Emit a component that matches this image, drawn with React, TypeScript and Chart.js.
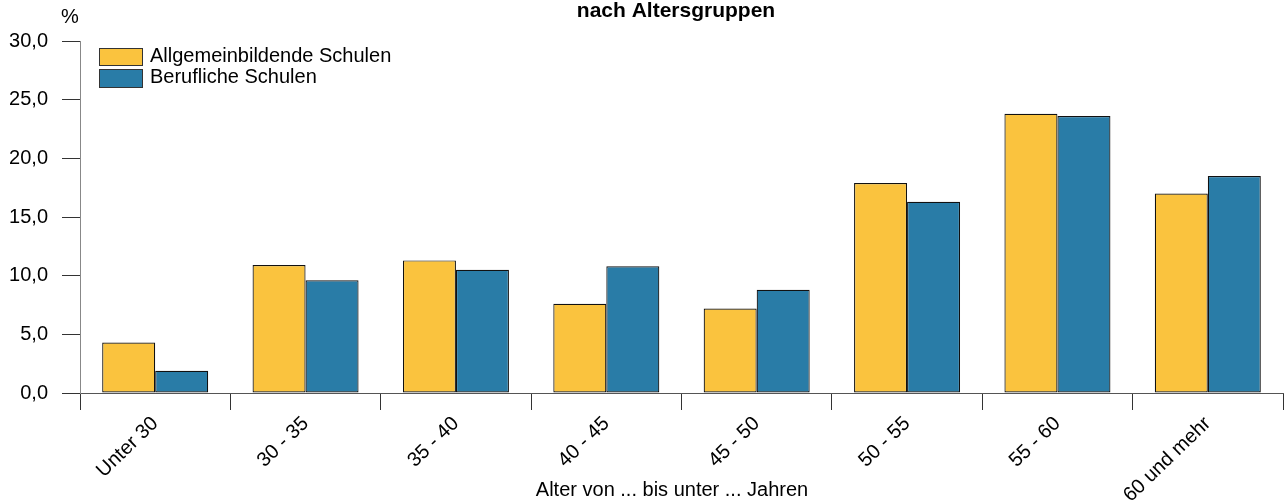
import React, { useEffect, useRef } from "react";
import { Chart, registerables } from "chart.js";

Chart.register(...registerables);

const categories = ["Unter 30", "30 - 35", "35 - 40", "40 - 45", "45 - 50", "50 - 55", "55 - 60", "60 und mehr"];
const allgemeinbildende = [4.3, 10.9, 11.3, 7.6, 7.2, 17.9, 23.8, 17.0];
const berufliche = [1.9, 9.6, 10.5, 10.8, 8.8, 16.3, 23.6, 18.5];
const seriesLabels = ["Allgemeinbildende Schulen", "Berufliche Schulen"];
const yTickLabels = ["0,0", "5,0", "10,0", "15,0", "20,0", "25,0", "30,0"];
const titleText = "nach Altersgruppen";
const yUnit = "%";
const xTitle = "Alter von ... bis unter ... Jahren";

const FONT = '"Liberation Sans", Arial, sans-serif';
const YELLOW = "#FAC33E";
const BLUE = "#297CA7";

const overlayPlugin = {
  id: "overlay",
  afterDraw(chart: any) {
    const ctx = chart.ctx;
    ctx.save();
    ctx.fillStyle = "#000";
    ctx.font = `bold 21px ${FONT}`;
    ctx.textAlign = "center";
    ctx.textBaseline = "alphabetic";
    ctx.fillText(titleText, 676, 17);
    ctx.font = `20px ${FONT}`;
    ctx.fillText(yUnit, 70, 23);
    ctx.fillText(xTitle, 672, 496);
    const boxes = [
      { y: 48, h: 18, base: 62 },
      { y: 69, h: 19, base: 83 },
    ];
    chart.data.datasets.forEach((ds: any, i: number) => {
      const b = boxes[i];
      ctx.fillStyle = ds.backgroundColor;
      ctx.fillRect(99, b.y, 44, b.h);
      ctx.strokeStyle = "#333";
      ctx.lineWidth = 1;
      ctx.strokeRect(99.5, b.y + 0.5, 43, b.h - 1);
      ctx.fillStyle = "#000";
      ctx.textAlign = "left";
      ctx.font = `20px ${FONT}`;
      ctx.fillText(ds.label, 150, b.base);
    });
    ctx.restore();
  },
};

export default function App() {
  const ref = useRef<HTMLCanvasElement>(null);
  useEffect(() => {
    if (!ref.current) return;
    const common = {
      borderColor: "#111",
      borderWidth: 1.2,
      borderSkipped: false,
      barPercentage: 1.0,
      categoryPercentage: 0.705,
    };
    const chart = new Chart(ref.current, {
      type: "bar",
      data: {
        labels: categories,
        datasets: [
          { label: seriesLabels[0], data: allgemeinbildende, backgroundColor: YELLOW, ...common },
          { label: seriesLabels[1], data: berufliche, backgroundColor: BLUE, ...common },
        ],
      },
      options: {
        animation: false,
        responsive: true,
        maintainAspectRatio: false,
        layout: { padding: { top: 41, right: 3, left: 0, bottom: 0 } },
        plugins: {
          legend: { display: false },
          title: { display: false },
          tooltip: { enabled: false },
        },
        scales: {
          x: {
            grid: {
              offset: true,
              drawOnChartArea: false,
              tickLength: 17,
              tickColor: "#333",
            },
            border: { display: true, color: "#555", width: 1 },
            ticks: {
              color: "#000",
              font: { family: FONT, size: 20 },
              maxRotation: 44,
              minRotation: 44,
              autoSkip: false,
              padding: 2,
            },
            afterFit(scale: any) {
              scale.height = 109;
            },
          },
          y: {
            min: 0,
            max: 30,
            grid: {
              drawOnChartArea: false,
              tickLength: 18,
              tickColor: "#333",
            },
            border: { display: true, color: "#888", width: 1 },
            ticks: {
              stepSize: 5,
              color: "#000",
              padding: 14,
              font: { family: FONT, size: 20 },
              callback: (_v: any, i: number) => yTickLabels[i],
            },
            afterFit(scale: any) {
              scale.width = 80;
            },
          },
        },
      },
      plugins: [overlayPlugin],
    });
    return () => chart.destroy();
  }, []);
  return (
    <div style={{ position: "absolute", left: 0, top: 0, width: 1286, height: 502 }}>
      <canvas ref={ref} />
    </div>
  );
}
